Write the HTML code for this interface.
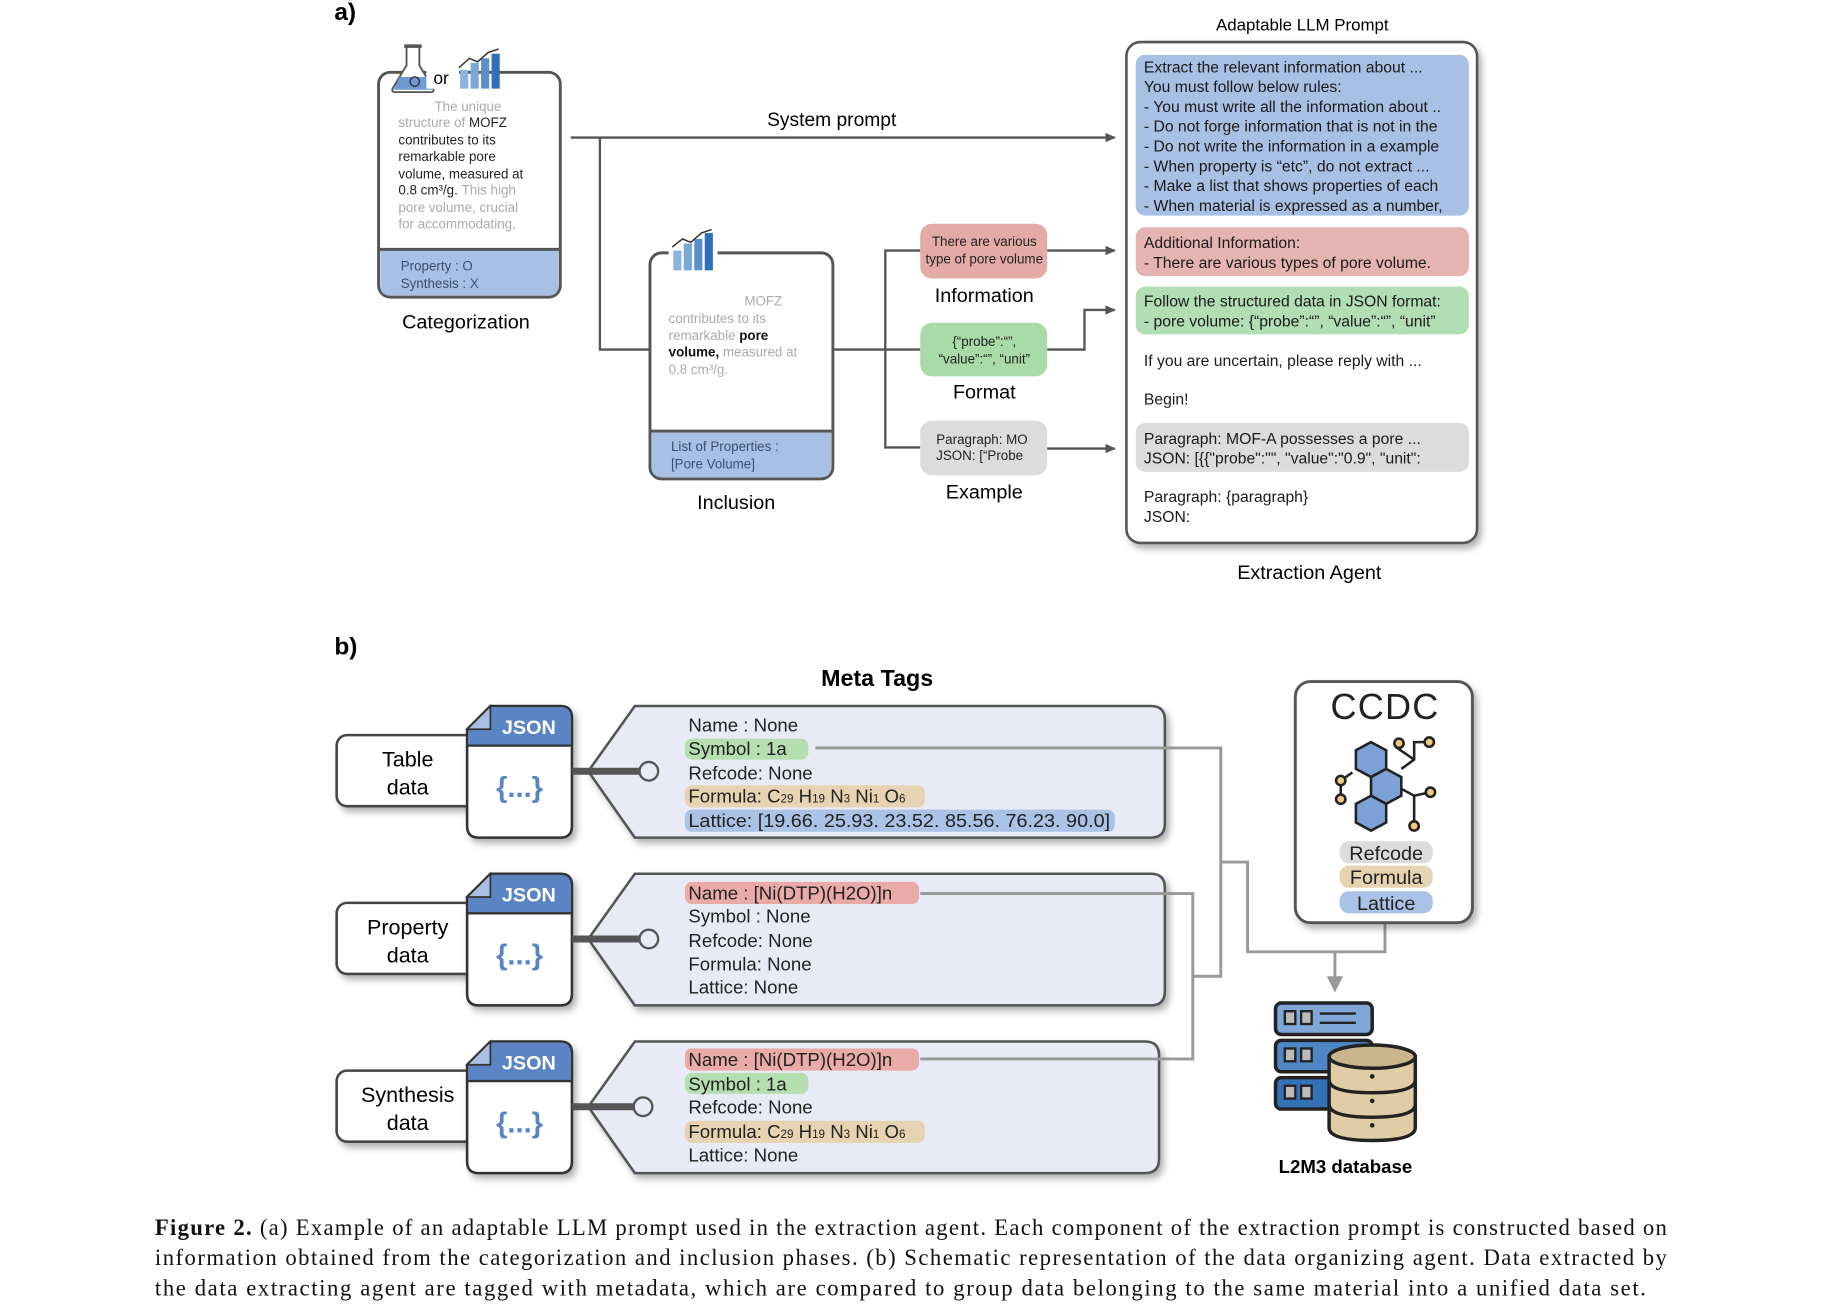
<!DOCTYPE html>
<html><head><meta charset="utf-8"><style>
html,body{margin:0;padding:0;background:#fff;}
svg{display:block;}
text{font-family:"Liberation Sans",Arial,sans-serif;}
.serif{font-family:"Liberation Serif","Times New Roman",serif;}
</style></head><body>
<svg width="1823" height="1313" viewBox="0 0 1565 1127" xmlns="http://www.w3.org/2000/svg">
<defs>
<filter id="sh" x="-10%" y="-10%" width="130%" height="130%"><feDropShadow dx="3" dy="4" stdDeviation="3" flood-color="#000" flood-opacity="0.3"/></filter>
<marker id="ar" markerWidth="10" markerHeight="10" refX="8" refY="5" orient="auto" markerUnits="userSpaceOnUse"><path d="M0,1 L9,5 L0,9 Z" fill="#555"/></marker>
</defs>

<!-- ===== a) ===== -->
<text x="287" y="17" font-size="21" font-weight="bold">a)</text>

<!-- Categorization -->
<rect x="325" y="62" width="156" height="193" rx="10" fill="#fff" stroke="#555" stroke-width="2.5"/>
<path d="M326.5,214 H479.5 V245 Q479.5,253.5 471,253.5 H335 Q326.5,253.5 326.5,245 Z" fill="#a7c0e3"/>
<line x1="325" y1="214" x2="481" y2="214" stroke="#555" stroke-width="2.5"/>
<path d="M349,40 H360 V56 L372,76 Q373,79 370,79 H339 Q336,79 337,76 L349,56 Z" fill="#fff" stroke="#555" stroke-width="1.6"/>
<path d="M343,66 H366 L371,77 H338 Z" fill="#6b9bd2"/>
<circle cx="356" cy="70" r="4" fill="none" stroke="#333" stroke-width="1.2"/>
<rect x="347" y="38" width="15" height="3" fill="#555"/>
<rect x="366" y="58" width="28" height="18" fill="#fff"/>
<text x="372" y="72" font-size="15">or</text>
<g><rect x="395" y="60" width="7" height="16" fill="#8cb3dd"/><rect x="404" y="54" width="7" height="22" fill="#7aa7d8"/><rect x="413" y="50" width="7" height="26" fill="#5b8fcc"/><rect x="422" y="46" width="7" height="30" fill="#2f6eb8"/>
<polyline points="394,58 403,50 410,53 419,45 428,42" fill="none" stroke="#333" stroke-width="1.3"/></g>
<g font-size="11.5" fill="#222">
<text x="373" y="95" fill="#aaa">The unique</text>
<text x="342" y="109"><tspan fill="#aaa">structure of </tspan>MOFZ</text>
<text x="342" y="124">contributes to its</text>
<text x="342" y="138">remarkable pore</text>
<text x="342" y="153">volume, measured at</text>
<text x="342" y="167">0.8 cm³/g. <tspan fill="#aaa">This high</tspan></text>
<text x="342" y="182" fill="#aaa">pore volume, crucial</text>
<text x="342" y="196" fill="#aaa">for accommodating,</text>
<text x="344" y="232" fill="#3d4d70">Property : O</text>
<text x="344" y="247" fill="#3d4d70">Synthesis : X</text>
</g>
<text x="400" y="282" font-size="17" text-anchor="middle">Categorization</text>

<line x1="490" y1="118" x2="957" y2="118" stroke="#555" stroke-width="2" marker-end="url(#ar)"/>
<text x="714" y="108" font-size="16.5" text-anchor="middle">System prompt</text>
<polyline points="515,118 515,300 558,300" fill="none" stroke="#555" stroke-width="2"/>

<!-- Inclusion -->
<rect x="558" y="217" width="157" height="194" rx="10" fill="#fff" stroke="#555" stroke-width="2.5"/>
<path d="M559.5,370 H713.5 V401 Q713.5,409.5 705,409.5 H568 Q559.5,409.5 559.5,401 Z" fill="#a7c0e3"/>
<line x1="558" y1="370" x2="715" y2="370" stroke="#555" stroke-width="2.5"/>
<rect x="574" y="205" width="42" height="14" fill="#fff"/>
<g><rect x="578" y="215" width="7" height="17" fill="#8cb3dd"/><rect x="587" y="209" width="7" height="23" fill="#7aa7d8"/><rect x="596" y="205" width="7" height="27" fill="#5b8fcc"/><rect x="605" y="200" width="7" height="32" fill="#2f6eb8"/>
<polyline points="577,212 586,205 593,208 602,200 611,197" fill="none" stroke="#333" stroke-width="1.3"/></g>
<g font-size="11.5" fill="#aaa">
<text x="639" y="262">MOFZ</text>
<text x="574" y="277">contributes to its</text>
<text x="574" y="292">remarkable <tspan fill="#111" font-weight="bold">pore</tspan></text>
<text x="574" y="306"><tspan fill="#111" font-weight="bold">volume,</tspan> measured at</text>
<text x="574" y="321">0.8 cm³/g.</text>
<text x="576" y="387" fill="#3d4d70">List of Properties :</text>
<text x="576" y="402" fill="#3d4d70">[Pore Volume]</text>
</g>
<text x="632" y="437" font-size="17" text-anchor="middle">Inclusion</text>

<line x1="715" y1="300" x2="790" y2="300" stroke="#555" stroke-width="2"/>
<polyline points="790,215 760,215 760,384 790,384" fill="none" stroke="#555" stroke-width="2"/>
<rect x="790" y="192" width="109" height="47" rx="10" fill="#e3aaa6"/>
<rect x="790" y="277" width="109" height="46" rx="10" fill="#a9dba9"/>
<rect x="790" y="361" width="109" height="47" rx="10" fill="#dcdcdc"/>
<g font-size="11.5" fill="#222" text-anchor="middle">
<text x="845" y="211">There are various</text>
<text x="845" y="226">type of pore volume</text>
<text x="845" y="297">{“probe”:“”,</text>
<text x="845" y="312">“value”:“”, “unit”</text>
<text x="843" y="381">Paragraph: MO</text>
<text x="841" y="395">JSON: [“Probe</text>
</g>
<g font-size="17" text-anchor="middle">
<text x="845" y="259">Information</text>
<text x="845" y="342">Format</text>
<text x="845" y="428">Example</text>
</g>
<line x1="899" y1="215" x2="957" y2="215" stroke="#555" stroke-width="2" marker-end="url(#ar)"/>
<polyline points="899,300 931,300 931,266 957,266" fill="none" stroke="#555" stroke-width="2" marker-end="url(#ar)"/>
<line x1="899" y1="385" x2="957" y2="385" stroke="#555" stroke-width="2" marker-end="url(#ar)"/>

<!-- Extraction -->
<text x="1118" y="26" font-size="14.5" text-anchor="middle">Adaptable LLM Prompt</text>
<rect x="967" y="36" width="301" height="430" rx="12" fill="#fff" stroke="#555" stroke-width="2.2" filter="url(#sh)"/>
<rect x="975" y="47" width="286" height="138" rx="8" fill="#a7c0e3"/>
<rect x="975" y="195" width="286" height="42" rx="8" fill="#e5b3b0"/>
<rect x="975" y="246" width="286" height="41" rx="8" fill="#b2deb3"/>
<rect x="975" y="363" width="286" height="42" rx="8" fill="#dcdcdc"/>
<g font-size="13.5" fill="#1a1a1a">
<text x="982" y="62">Extract the relevant information about ...</text>
<text x="982" y="79">You must follow below rules:</text>
<text x="982" y="96">-  You must write all the information about ..</text>
<text x="982" y="113">-  Do not forge information that is not in the</text>
<text x="982" y="130">-  Do not write the information in a example</text>
<text x="982" y="147">-  When property is “etc”, do not extract ...</text>
<text x="982" y="164">-  Make a list that shows properties of each</text>
<text x="982" y="181">-  When material is expressed as a number,</text>
<text x="982" y="213">Additional Information:</text>
<text x="982" y="230">-  There are various types of pore volume.</text>
<text x="982" y="263">Follow the structured data in JSON format:</text>
<text x="982" y="280">-  pore volume: {“probe”:“”, “value”:“”, “unit”</text>
<text x="982" y="314">If you are uncertain, please reply with ...</text>
<text x="982" y="347">Begin!</text>
<text x="982" y="381">Paragraph: MOF-A possesses a pore ...</text>
<text x="982" y="398">JSON: [{{"probe":"", "value":"0.9", "unit":</text>
<text x="982" y="431">Paragraph: {paragraph}</text>
<text x="982" y="448">JSON:</text>
</g>
<text x="1124" y="497" font-size="17" text-anchor="middle">Extraction Agent</text>

<!-- ===== b) ===== -->
<text x="287" y="562" font-size="21" font-weight="bold">b)</text>
<text x="753" y="589" font-size="20" font-weight="bold" text-anchor="middle">Meta Tags</text>

<g fill="none" stroke="#999" stroke-width="2.5">
<polyline points="1048,740 1071,740 1071,817 1189,817 1189,792"/>
<line x1="1146" y1="817" x2="1146" y2="840"/>
</g>
<path d="M1139,838 L1153,838 L1146,852 Z" fill="#999"/>

<g id="row1">
<rect x="289" y="631" width="120" height="61" rx="9" fill="#fff" stroke="#444" stroke-width="2.2" filter="url(#sh)"/>
<text x="350" y="658" font-size="18.5" text-anchor="middle">Table</text>
<text x="350" y="682" font-size="18.5" text-anchor="middle">data</text>
<path d="M421,606 H481 Q491,606 491,616 V709 Q491,719 481,719 H411 Q401,719 401,709 V626 Z" fill="#fff" stroke="#333" stroke-width="2.2" filter="url(#sh)"/>
<path d="M421,607 H481 Q490,607 490,616 V640 H402 V626 Z" fill="#5b84c4"/>
<path d="M401,626 L421,626 L421,606 Z" fill="#a7c0e3" stroke="#333" stroke-width="1.5"/>
<line x1="401" y1="640" x2="491" y2="640" stroke="#333" stroke-width="2"/>
<text x="454" y="630" font-size="17" font-weight="bold" fill="#fff" text-anchor="middle">JSON</text>
<text x="446" y="684" font-size="25" font-weight="bold" fill="#5b84c4" text-anchor="middle">{...}</text>
<path d="M545,606 H988 Q1000,606 1000,618 V707 Q1000,719 988,719 H545 L505,662 Z" fill="#e8ebf6" stroke="#555" stroke-width="2.2" filter="url(#sh)"/>
<line x1="491" y1="662" x2="550" y2="662" stroke="#555" stroke-width="6"/>
<circle cx="557" cy="662" r="8" fill="#e8ebf6" stroke="#555" stroke-width="2"/>
<rect x="588" y="634" width="106" height="18" rx="6" fill="#b5dfb0"/>
<rect x="588" y="674" width="206" height="19" rx="6" fill="#e6d3b2"/>
<rect x="588" y="695" width="369" height="19" rx="6" fill="#a9c2e6"/>
<g font-size="16" fill="#222">
<text x="591" y="628">Name : None</text>
<text x="591" y="648">Symbol : 1a</text>
<text x="591" y="669">Refcode: None</text>
<text x="591" y="689">Formula: C<tspan font-size="10">29</tspan> H<tspan font-size="10">19</tspan> N<tspan font-size="10">3</tspan> Ni<tspan font-size="10">1</tspan> O<tspan font-size="10">6</tspan></text>
<text x="591" y="710" textLength="362" lengthAdjust="spacingAndGlyphs">Lattice: [19.66. 25.93. 23.52. 85.56. 76.23. 90.0]</text>
</g>
</g>

<g id="row2">
<rect x="289" y="775" width="120" height="61" rx="9" fill="#fff" stroke="#444" stroke-width="2.2" filter="url(#sh)"/>
<text x="350" y="802" font-size="18.5" text-anchor="middle">Property</text>
<text x="350" y="826" font-size="18.5" text-anchor="middle">data</text>
<path d="M421,750 H481 Q491,750 491,760 V853 Q491,863 481,863 H411 Q401,863 401,853 V770 Z" fill="#fff" stroke="#333" stroke-width="2.2" filter="url(#sh)"/>
<path d="M421,751 H481 Q490,751 490,760 V784 H402 V770 Z" fill="#5b84c4"/>
<path d="M401,770 L421,770 L421,750 Z" fill="#a7c0e3" stroke="#333" stroke-width="1.5"/>
<line x1="401" y1="784" x2="491" y2="784" stroke="#333" stroke-width="2"/>
<text x="454" y="774" font-size="17" font-weight="bold" fill="#fff" text-anchor="middle">JSON</text>
<text x="446" y="828" font-size="25" font-weight="bold" fill="#5b84c4" text-anchor="middle">{...}</text>
<path d="M545,750 H988 Q1000,750 1000,762 V851 Q1000,863 988,863 H545 L505,806 Z" fill="#e8ebf6" stroke="#555" stroke-width="2.2" filter="url(#sh)"/>
<line x1="491" y1="806" x2="550" y2="806" stroke="#555" stroke-width="6"/>
<circle cx="557" cy="806" r="8" fill="#e8ebf6" stroke="#555" stroke-width="2"/>
<rect x="588" y="757" width="201" height="19" rx="6" fill="#e9aaa8"/>
<g font-size="16" fill="#222">
<text x="591" y="772">Name : [Ni(DTP)(H2O)]n</text>
<text x="591" y="792">Symbol : None</text>
<text x="591" y="813">Refcode: None</text>
<text x="591" y="833">Formula: None</text>
<text x="591" y="853">Lattice: None</text>
</g>
</g>

<g id="row3">
<rect x="289" y="919" width="120" height="61" rx="9" fill="#fff" stroke="#444" stroke-width="2.2" filter="url(#sh)"/>
<text x="350" y="946" font-size="18.5" text-anchor="middle">Synthesis</text>
<text x="350" y="970" font-size="18.5" text-anchor="middle">data</text>
<path d="M421,894 H481 Q491,894 491,904 V997 Q491,1007 481,1007 H411 Q401,1007 401,997 V914 Z" fill="#fff" stroke="#333" stroke-width="2.2" filter="url(#sh)"/>
<path d="M421,895 H481 Q490,895 490,904 V928 H402 V914 Z" fill="#5b84c4"/>
<path d="M401,914 L421,914 L421,894 Z" fill="#a7c0e3" stroke="#333" stroke-width="1.5"/>
<line x1="401" y1="928" x2="491" y2="928" stroke="#333" stroke-width="2"/>
<text x="454" y="918" font-size="17" font-weight="bold" fill="#fff" text-anchor="middle">JSON</text>
<text x="446" y="972" font-size="25" font-weight="bold" fill="#5b84c4" text-anchor="middle">{...}</text>
<path d="M545,894 H983 Q995,894 995,906 V995 Q995,1007 983,1007 H545 L505,950 Z" fill="#e8ebf6" stroke="#555" stroke-width="2.2" filter="url(#sh)"/>
<line x1="491" y1="950" x2="545" y2="950" stroke="#555" stroke-width="6"/>
<circle cx="552" cy="950" r="8" fill="#e8ebf6" stroke="#555" stroke-width="2"/>
<rect x="588" y="900" width="201" height="19" rx="6" fill="#e9aaa8"/>
<rect x="588" y="921" width="106" height="18" rx="6" fill="#b5dfb0"/>
<rect x="588" y="962" width="206" height="19" rx="6" fill="#e6d3b2"/>
<g font-size="16" fill="#222">
<text x="591" y="915">Name : [Ni(DTP)(H2O)]n</text>
<text x="591" y="936">Symbol : 1a</text>
<text x="591" y="956">Refcode: None</text>
<text x="591" y="977">Formula: C<tspan font-size="10">29</tspan> H<tspan font-size="10">19</tspan> N<tspan font-size="10">3</tspan> Ni<tspan font-size="10">1</tspan> O<tspan font-size="10">6</tspan></text>
<text x="591" y="997">Lattice: None</text>
</g>
</g>

<!-- connectors over tags -->
<g fill="none" stroke="#999" stroke-width="2.5">
<polyline points="700,642 1048,642 1048,838 1024,838"/>
<polyline points="790,767 1024,767 1024,909 790,909"/>
</g>

<!-- CCDC -->
<rect x="1112" y="585" width="152" height="207" rx="13" fill="#fff" stroke="#555" stroke-width="2.5" filter="url(#sh)"/>
<text x="1189" y="617" font-size="31" text-anchor="middle" fill="#222" letter-spacing="1">CCDC</text>
<g stroke="#222" stroke-width="2.2">
<polyline points="1161,663 1151,670 1151,686" fill="none"/>
<polyline points="1203,660 1214,652 1214,637 1226,637" fill="none"/>
<polyline points="1203,677 1214,683 1228,680" fill="none"/>
<line x1="1214" y1="683" x2="1214" y2="708"/>
<line x1="1198" y1="641" x2="1214" y2="652"/>
<polygon points="1177,637 1190,644 1190,660 1177,667 1164,660 1164,644" fill="#7ba1d6"/>
<polygon points="1190,660 1203,667 1203,683 1190,690 1177,683 1177,667" fill="#7ba1d6"/>
<polygon points="1177,683 1190,690 1190,706 1177,713 1164,706 1164,690" fill="#7ba1d6"/>
<g fill="#f3c77d"><circle cx="1151" cy="670" r="4"/><circle cx="1151" cy="686" r="4"/><circle cx="1201" cy="638" r="4"/><circle cx="1227" cy="637" r="4"/><circle cx="1228" cy="680" r="4"/><circle cx="1214" cy="709" r="4"/></g>
</g>
<rect x="1150" y="722" width="80" height="19" rx="8" fill="#dcdcdc"/>
<rect x="1150" y="743" width="80" height="19" rx="8" fill="#e6d3b2"/>
<rect x="1150" y="765" width="80" height="19" rx="8" fill="#a9c2e6"/>
<g font-size="17" text-anchor="middle" fill="#222">
<text x="1190" y="738">Refcode</text>
<text x="1190" y="759">Formula</text>
<text x="1190" y="781">Lattice</text>
</g>

<!-- database -->
<g stroke="#222" stroke-width="3">
<rect x="1095" y="861" width="83" height="27" rx="5" fill="#7fa7d8"/>
<rect x="1095" y="893" width="83" height="27" rx="5" fill="#4f86c6"/>
<rect x="1095" y="925" width="83" height="27" rx="5" fill="#3472b8"/>
<g fill="#bbb" stroke-width="2"><rect x="1103" y="868" width="9" height="11"/><rect x="1117" y="868" width="9" height="11"/><rect x="1103" y="900" width="9" height="11"/><rect x="1117" y="900" width="9" height="11"/><rect x="1103" y="932" width="9" height="11"/><rect x="1117" y="932" width="9" height="11"/></g>
<line x1="1133" y1="870" x2="1164" y2="870" stroke-width="2"/><line x1="1133" y1="878" x2="1164" y2="878" stroke-width="2"/>
<path d="M1141,907 V968 Q1141,979 1178,979 Q1215,979 1215,968 V907 Z" fill="#e0cda5"/>
<ellipse cx="1178" cy="907" rx="37" ry="10" fill="#c9b48c"/>
<path d="M1141,927 Q1141,938 1178,938 Q1215,938 1215,927" fill="none"/>
<path d="M1141,948 Q1141,959 1178,959 Q1215,959 1215,948" fill="none"/>
</g>
<g fill="#222"><circle cx="1178" cy="924" r="2"/><circle cx="1178" cy="945" r="2"/><circle cx="1178" cy="966" r="2"/></g>
<text x="1155" y="1007" font-size="16" font-weight="bold" text-anchor="middle">L2M3 database</text>

<!-- caption -->
<g class="serif" font-size="19.5" fill="#111">
<text class="serif" x="133" y="1060" textLength="1298" lengthAdjust="spacing"><tspan font-weight="bold">Figure 2.</tspan> (a) Example of an adaptable LLM prompt used in the extraction agent. Each component of the extraction prompt is constructed based on</text>
<text class="serif" x="133" y="1086" textLength="1298" lengthAdjust="spacing">information obtained from the categorization and inclusion phases. (b) Schematic representation of the data organizing agent. Data extracted by</text>
<text class="serif" x="133" y="1112" textLength="1280" lengthAdjust="spacing">the data extracting agent are tagged with metadata, which are compared to group data belonging to the same material into a unified data set.</text>
</g>
</svg>
</body></html>
